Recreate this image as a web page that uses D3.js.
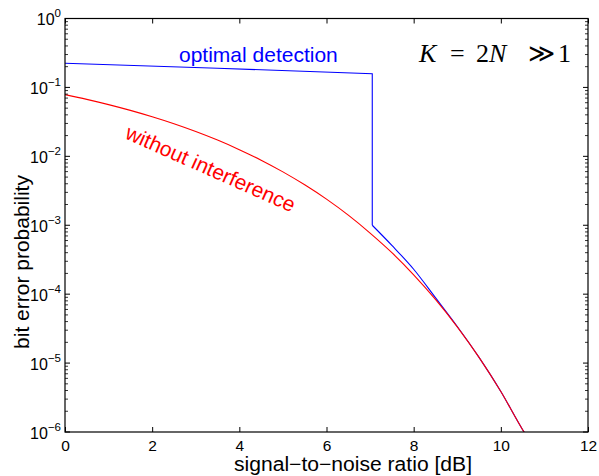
<!DOCTYPE html>
<html>
<head>
<meta charset="utf-8">
<script src="https://cdn.jsdelivr.net/npm/d3@7"></script>
<style>
  body { margin: 0; background: #fff; }
  svg { display: block; font-family: "Liberation Sans", Arial, sans-serif; }
</style>
</head>
<body>
<svg id="chart" width="599" height="476"></svg>
<script>
// SNR in dB and bit error probability
const snrRed = [0, 0.5, 1, 1.5, 2, 2.5, 3, 3.5, 4, 4.5, 5, 5.5, 6, 6.5, 7, 7.5, 8, 8.5, 9, 9.5, 10, 10.5, 10.55];
const berRed = [0.0786, 0.0671, 0.0563, 0.0464, 0.0375, 0.0297, 0.0229, 0.0172, 0.0125, 0.0088, 0.00595, 0.00386,
                0.00239, 0.0014, 7.7e-4, 4.0e-4, 1.91e-4, 8.4e-5, 3.36e-5, 1.21e-5, 3.87e-6, 1.08e-6, 9.6e-7];

const snrBlue = [0, 3.5, 7.05, 7.05, 7.5, 8, 8.5, 9, 9.5, 10, 10.5, 10.55];
const berBlue = [0.224, 0.19, 0.158, 1.0e-3, 5.1e-4, 2.3e-4, 8.9e-5, 3.4e-5, 1.21e-5, 3.87e-6, 1.08e-6, 9.6e-7];

const xTicks = [0, 2, 4, 6, 8, 10, 12];
const yExps = [0, -1, -2, -3, -4, -5, -6];

const margin = {top: 18.5, right: 11, bottom: 44, left: 65};
const width = 599 - margin.left - margin.right;
const height = 476 - margin.top - margin.bottom;

const svg = d3.select("#chart");
const g = svg.append("g").attr("transform", "translate(" + margin.left + "," + margin.top + ")");

const x = d3.scaleLinear().domain([0, 12]).range([0, width]);
const y = d3.scaleLog().domain([1e-6, 1]).range([height, 0]);

// clip so curves stop at the frame
svg.append("defs").append("clipPath").attr("id", "clip")
  .append("rect").attr("width", width).attr("height", height);

const line = d3.line()
  .x(d => x(d[0]))
  .y(d => y(d[1]))
  .curve(d3.curveMonotoneX);

const lineStraight = d3.line()
  .x(d => x(d[0]))
  .y(d => y(d[1]));

const redData = snrRed.map((s, i) => [s, berRed[i]]);
const blueData = snrBlue.map((s, i) => [s, berBlue[i]]);

const plot = g.append("g").attr("clip-path", "url(#clip)");
plot.append("path").datum(blueData.slice(0, 4)).attr("d", lineStraight)
  .attr("fill", "none").attr("stroke", "#0000ff").attr("stroke-width", 1.1);
plot.append("path").datum(blueData.slice(3)).attr("d", line)
  .attr("fill", "none").attr("stroke", "#0000ff").attr("stroke-width", 1.1);
plot.append("path").datum(redData).attr("d", line)
  .attr("fill", "none").attr("stroke", "#ff0000").attr("stroke-width", 1.1);

// frame
g.append("rect").attr("width", width).attr("height", height)
  .attr("fill", "none").attr("stroke", "#000").attr("stroke-width", 1.2);

// x ticks (inward, bottom and top)
const xAxisB = d3.axisBottom(x).tickValues(xTicks).tickSize(-5).tickPadding(7.5);
const xg = g.append("g").attr("transform", "translate(0," + height + ")").call(xAxisB);
xg.select(".domain").remove();
xg.selectAll("text").attr("font-size", 15.5).attr("fill", "#000").attr("font-family", "Liberation Sans, Arial, sans-serif");
const xAxisT = d3.axisTop(x).tickValues(xTicks).tickSize(-5).tickFormat("");
g.append("g").call(xAxisT).select(".domain").remove();

// y ticks (major + minor, inward on both sides)
const minor = [];
for (let e = -6; e < 0; e++) for (let m = 2; m <= 9; m++) minor.push(m * Math.pow(10, e));
const majors = yExps.map(e => Math.pow(10, e));

[[0, 1], [width, -1]].forEach(([x0, dir]) => {
  g.selectAll(null).data(majors).enter().append("line")
    .attr("x1", x0).attr("x2", x0 + dir * 5)
    .attr("y1", d => y(d)).attr("y2", d => y(d))
    .attr("stroke", "#000").attr("stroke-width", 1);
  g.selectAll(null).data(minor).enter().append("line")
    .attr("x1", x0).attr("x2", x0 + dir * 3)
    .attr("y1", d => y(d)).attr("y2", d => y(d))
    .attr("stroke", "#000").attr("stroke-width", 0.8);
});

// y tick labels 10^e
const yl = g.selectAll(".ylab").data(yExps).enter().append("text")
  .attr("x", -4).attr("y", d => y(Math.pow(10, d)) + 6.5)
  .attr("text-anchor", "end").attr("font-size", 16).attr("fill", "#000");
yl.append("tspan").text("10");
yl.append("tspan").attr("dy", -8).attr("font-size", 11.5).text(d => d === 0 ? "0" : "\u2212" + (-d));

// axis titles
svg.append("text").attr("x", 234).attr("y", 471)
  .attr("font-size", 20).attr("fill", "#000")
  .attr("textLength", 238).attr("lengthAdjust", "spacingAndGlyphs")
  .text("signal\u2212to\u2212noise ratio [dB]");
svg.append("text").attr("transform", "translate(29,262) rotate(-90)")
  .attr("text-anchor", "middle").attr("font-size", 21).attr("fill", "#000")
  .text("bit error probability");

// curve labels
svg.append("text").attr("x", 179).attr("y", 62).attr("font-size", 21)
  .attr("fill", "#0000ff").text("optimal detection");
svg.append("text").attr("transform", "translate(124,138) rotate(24)")
  .attr("font-size", 21).attr("fill", "#ff0000").text("without interference");

// K = 2N >> 1, TeX-like spacing
const k = svg.append("g").attr("font-family", "Liberation Serif, 'DejaVu Serif', serif")
  .attr("font-size", 26).attr("fill", "#000");
[["K", 419, true], ["=", 450, false], ["2", 476, false], ["N", 489, true], ["\u226B", 528, false], ["1", 558, false]]
  .forEach(([t, px, it]) => {
    k.append("text").attr("x", px).attr("y", 62)
      .attr("font-style", it ? "italic" : "normal").text(t);
  });
</script>
</body>
</html>
